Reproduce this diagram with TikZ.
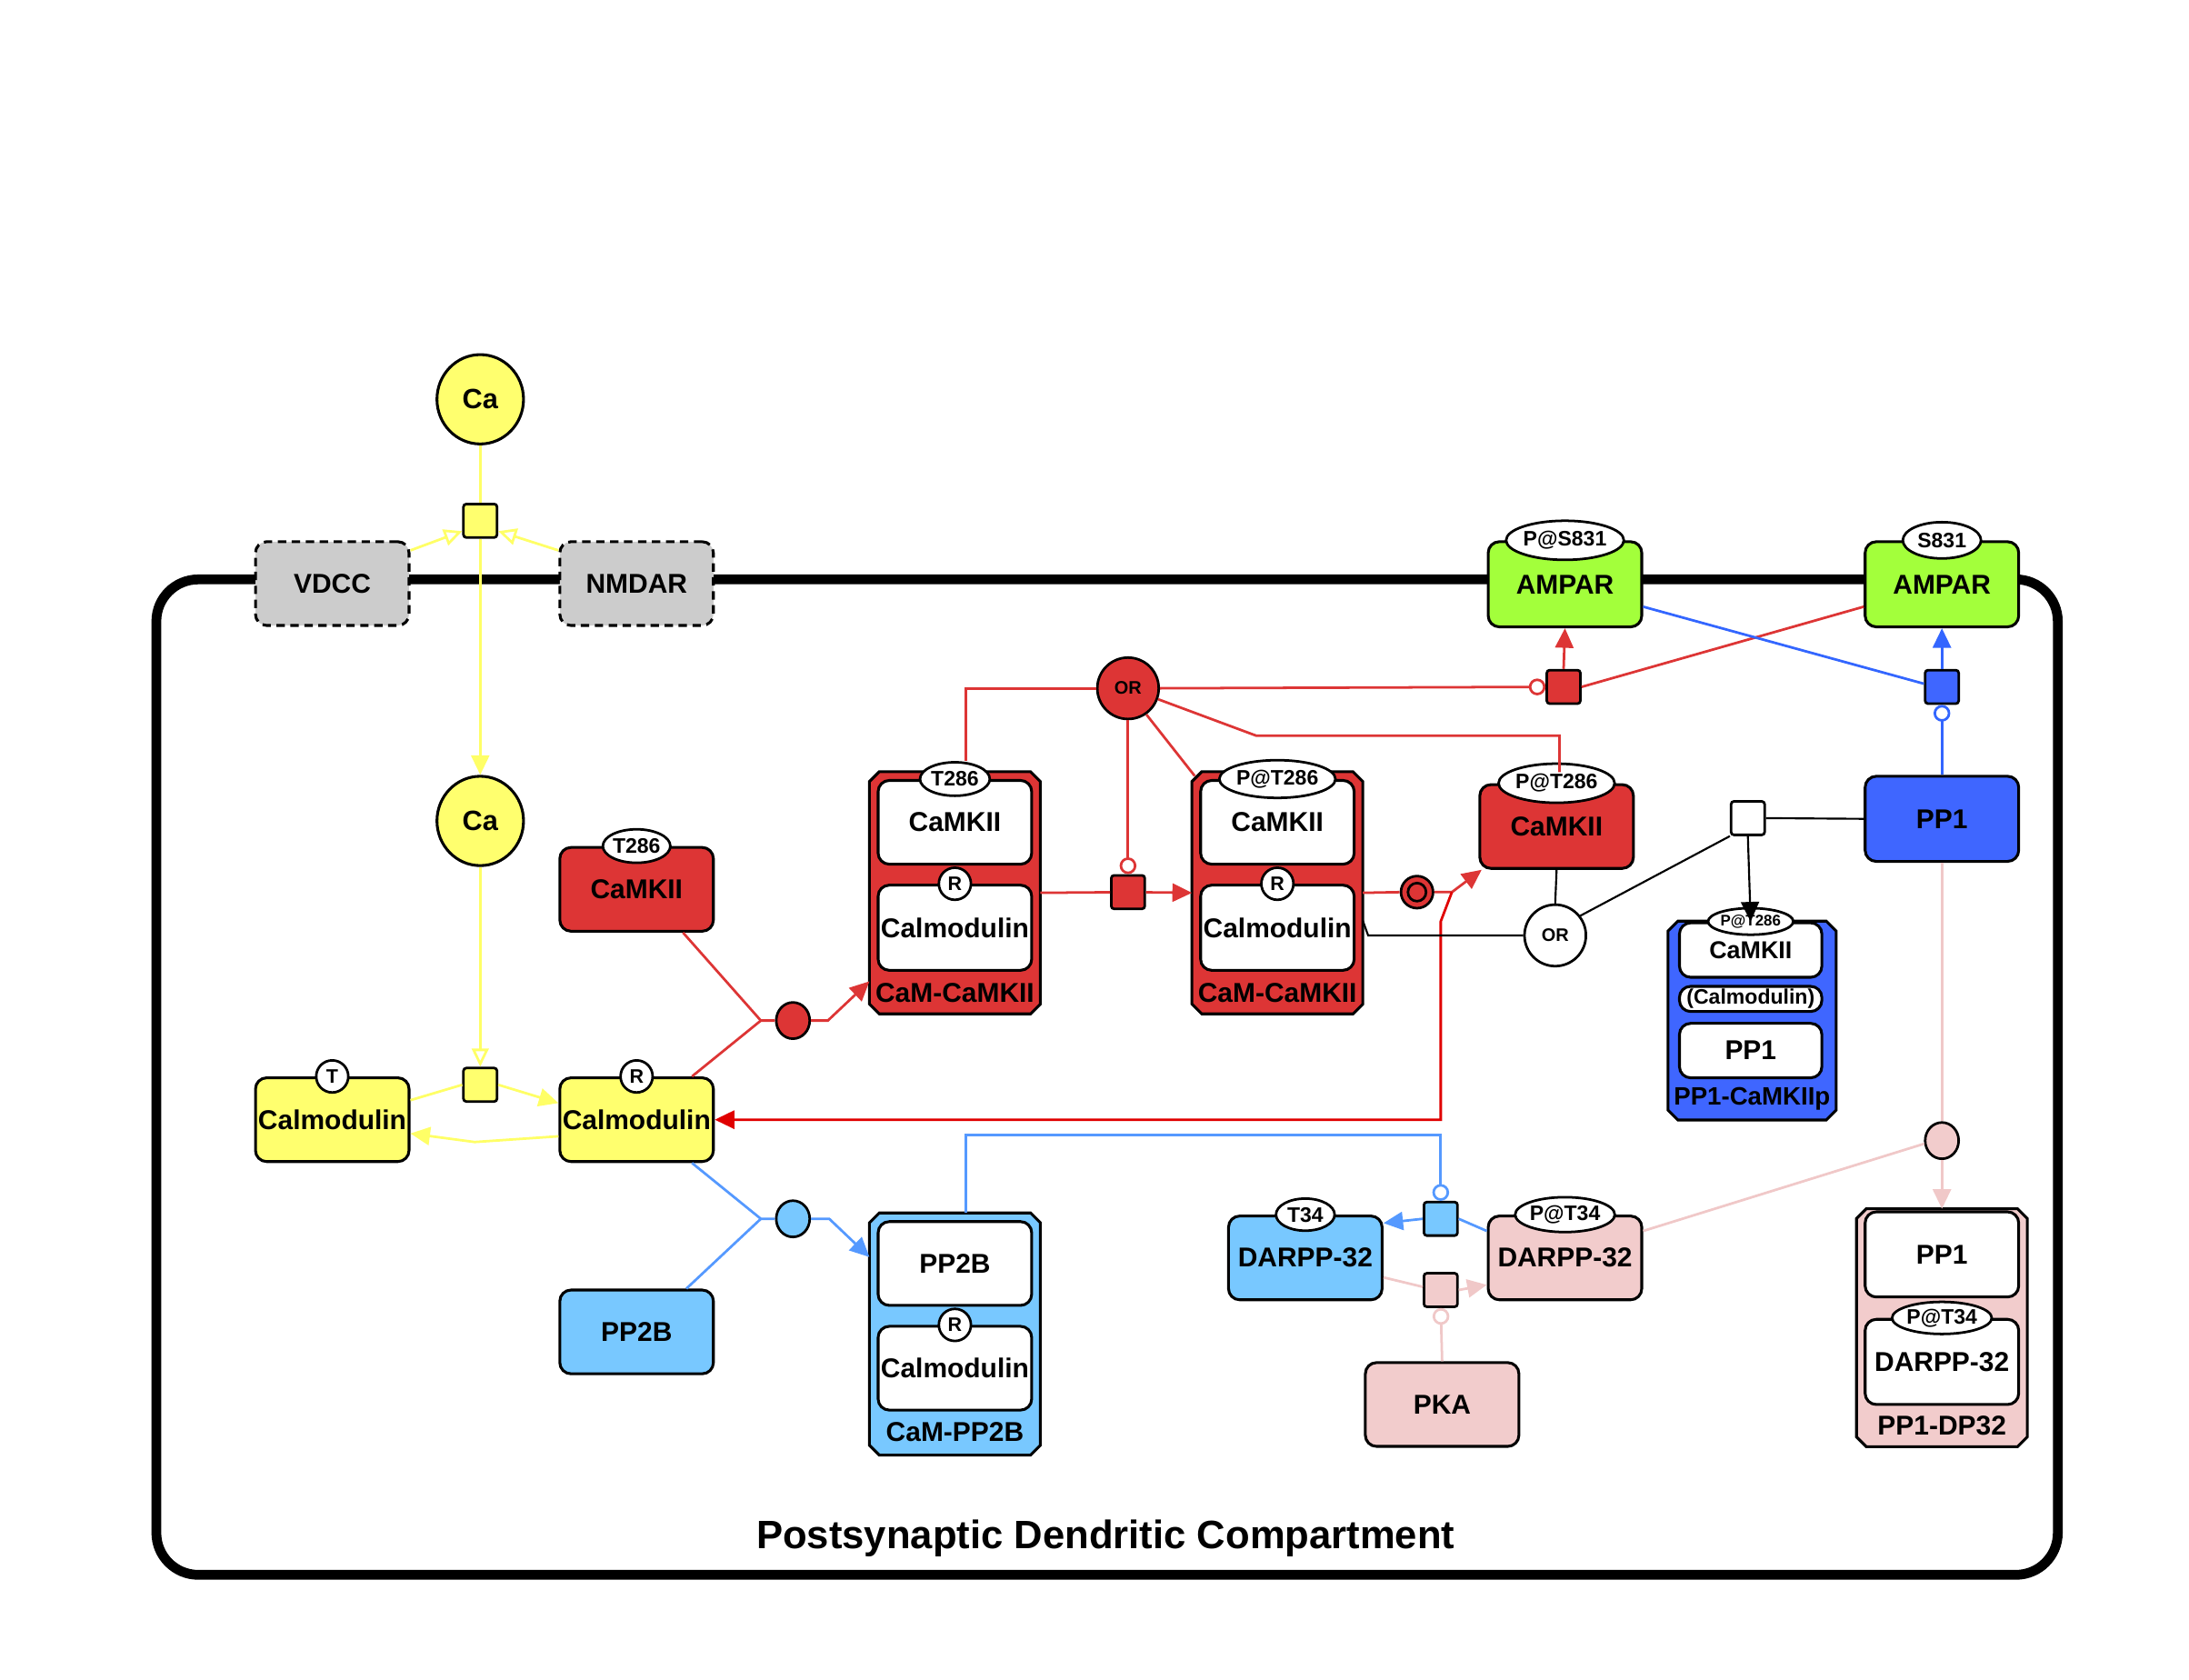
\documentclass[tikz,border=0pt]{standalone}
\usepackage{fontspec}
\setmainfont{Liberation Sans}
\usetikzlibrary{arrows.meta,shapes.geometric,calc}
\definecolor{cyel}{HTML}{FFFF6E}
\definecolor{cgray}{HTML}{CCCCCC}
\definecolor{cred}{HTML}{DD3535}
\definecolor{cgreen}{HTML}{A3FF3B}
\definecolor{cblue}{HTML}{3F66FF}
\definecolor{clblue}{HTML}{78C8FF}
\definecolor{cpink}{HTML}{F2CCCC}
\definecolor{lyel}{HTML}{FFFF66}
\definecolor{lred}{HTML}{DD3535}
\definecolor{lbred}{HTML}{E00000}
\definecolor{lblue}{HTML}{5599FF}
\definecolor{lpblue}{HTML}{3366FF}
\definecolor{lpink}{HTML}{F0C8C8}
\newcommand\chamfbox[2]{%
  \draw[line width=2pt, fill=#2]
    ($(#1.north west)+(7,0)$) -- ($(#1.north east)+(-7,0)$) -- ($(#1.north east)+(0,7)$)
    -- ($(#1.south east)+(0,-7)$) -- ($(#1.south east)+(-7,0)$) -- ($(#1.south west)+(7,0)$)
    -- ($(#1.south west)+(0,-7)$) -- ($(#1.north west)+(0,7)$) -- cycle;}
\begin{document}
\begin{tikzpicture}[x=1pt,y=-1pt,
  base/.style={font=\bfseries\fontsize{19.5}{22}\selectfont, text=black},
  mac/.style={base, draw, line width=2pt, rounded corners=8pt, minimum width=110pt, minimum height=60pt, inner sep=0pt},
  inbox/.style={mac, fill=white},
  cpx/.style={base, rectangle, minimum width=122pt, minimum height=173pt, inner sep=0pt},
  uoi/.style={draw, fill=white, ellipse, line width=1.8pt, inner sep=0pt, font=\bfseries\fontsize{15}{16}\selectfont},
  rc/.style={draw, fill=white, circle, line width=1.8pt, minimum size=23pt, inner sep=0pt, font=\bfseries\fontsize{14}{15}\selectfont},
  pq/.style={draw, line width=1.8pt, rounded corners=2pt, minimum size=24pt, inner sep=0pt},
  assoc/.style={draw, ellipse, line width=1.8pt, minimum width=24pt, minimum height=26pt, inner sep=0pt},
  ornode/.style={draw, ellipse, line width=1.8pt, minimum width=44pt, minimum height=44pt, inner sep=0pt, font=\bfseries\fontsize{13}{14}\selectfont},
  ion/.style={draw, ellipse, fill=cyel, line width=2pt, minimum width=62pt, minimum height=64pt, inner sep=0pt, font=\bfseries\fontsize{20}{22}\selectfont},
  cn/.style={line width=1.8pt},
  fa/.style={-{Triangle[length=14pt,width=13pt]}},
  oa/.style={-{Triangle[open,length=13pt,width=12pt,fill=white]}},
  cat/.style={-{Circle[open,length=12pt,width=12pt,fill=white]}}
]
\useasboundingbox (0,0) rectangle (1568,1202.7);

% compartment
\node[draw, line width=7pt, rounded corners=30pt, minimum width=1362pt, minimum height=713pt, inner sep=0pt] (comp) at (793,771.5) {};
\node[font=\bfseries\fontsize{28.4}{30}\selectfont] (title) at (792,1102) {Postsynaptic Dendritic Compartment};

% yellow part
\node[ion] (ca1) at (344,286) {Ca};
\node[pq, fill=cyel] (p1) at (344,373) {};
\node[mac, fill=cgray, dash pattern=on 6pt off 4pt] (vdcc) at (238,418) {VDCC};
\node[mac, fill=cgray, dash pattern=on 6pt off 4pt] (nmdar) at (456,418) {NMDAR};
\node[ion] (ca2) at (344,588) {Ca};
\node[pq, fill=cyel] (p2) at (344,777) {};
\node[mac, fill=cyel] (calT) at (238,802) {Calmodulin};
\node[rc] (calTu) at (calT.north) {T};
\node[mac, fill=cyel] (calR) at (456,802) {Calmodulin};
\node[rc] (calRu) at (calR.north) {R};

% free CaMKII
\node[mac, fill=cred] (camk) at (456,637) {CaMKII};
\node[uoi, minimum width=48pt, minimum height=24pt] (camku) at (camk.north) {T286};

% complex 1
\node[cpx] (cx1) at (684,639.5) {};
\chamfbox{cx1}{cred}
\node[inbox] (cx1a) at (684,589) {CaMKII};
\node[uoi, minimum width=50pt, minimum height=24pt] (cx1au) at (cx1a.north) {T286};
\node[inbox, minimum height=61pt] (cx1b) at (684,664.5) {Calmodulin};
\node[rc] (cx1bu) at (cx1b.north) {R};
\node[base] (cx1l) at (684,711) {CaM-CaMKII};

% complex 2
\node[cpx] (cx2) at (915,639.5) {};
\chamfbox{cx2}{cred}
\node[inbox] (cx2a) at (915,589) {CaMKII};
\node[uoi, minimum width=66pt, minimum height=27pt] (cx2au) at (cx2a.north) {P@T286};
\node[inbox, minimum height=61pt] (cx2b) at (915,664.5) {Calmodulin};
\node[rc] (cx2bu) at (cx2b.north) {R};
\node[base] (cx2l) at (915,711) {CaM-CaMKII};

% phosphorylated CaMKII
\node[mac, fill=cred] (cx3) at (1115,592) {CaMKII};
\node[uoi, minimum width=68pt, minimum height=28pt] (cx3u) at (cx3.north) {P@T286};

% AMPARs
\node[mac, fill=cgreen, minimum height=61pt] (ampP) at (1121,418.5) {AMPAR};
\node[uoi, minimum width=82pt, minimum height=28pt] (ampPu) at (ampP.north) {P@S831};
\node[mac, fill=cgreen, minimum height=61pt] (ampS) at (1391,418.5) {AMPAR};
\node[uoi, minimum width=56pt, minimum height=26pt] (ampSu) at (ampS.north) {S831};

% PP1
\node[mac, fill=cblue, minimum height=61pt] (pp1) at (1391,586.5) {PP1};

% PP1-CaMKIIp complex
\node[cpx, minimum width=120pt, minimum height=142pt] (cx5) at (1255,731) {};
\chamfbox{cx5}{cblue}
\node[inbox, minimum width=102pt, minimum height=39pt, font=\bfseries\fontsize{17.5}{19}\selectfont] (cx5a) at (1254,680.5) {CaMKII};
\node[uoi, minimum width=60pt, minimum height=19pt, font=\bfseries\fontsize{11}{12}\selectfont] (cx5au) at (cx5a.north) {P@T286};
\node[inbox, minimum width=102pt, minimum height=18pt, font=\bfseries\fontsize{15}{16}\selectfont] (cx5b) at (1254,715.5) {(Calmodulin)};
\node[inbox, minimum width=102pt, minimum height=39pt] (cx5c) at (1254,752.5) {PP1};
\node[base, font=\bfseries\fontsize{18}{19}\selectfont] (cx5l) at (1255,787) {PP1-CaMKIIp};

% PP2B
\node[mac, fill=clblue] (pp2b) at (456,954) {PP2B};
\node[cpx] (cx4) at (684,955.5) {};
\chamfbox{cx4}{clblue}
\node[inbox] (cx4a) at (684,905) {PP2B};
\node[inbox] (cx4b) at (684,980) {Calmodulin};
\node[rc] (cx4bu) at (cx4b.north) {R};
\node[base] (cx4l) at (684,1026) {CaM-PP2B};

% DARPP-32
\node[mac, fill=clblue] (dblue) at (935,901) {DARPP-32};
\node[uoi, minimum width=42pt, minimum height=23pt] (dblueu) at (dblue.north) {T34};
\node[mac, fill=cpink] (dpink) at (1121,901) {DARPP-32};
\node[uoi, minimum width=58pt, minimum height=25pt] (dpinku) at (dpink.north) {P@T34};
\node[mac, fill=cpink] (pka) at (1033,1006) {PKA};

% PP1-DP32 complex
\node[cpx, minimum height=170pt] (cx6) at (1391,951) {};
\chamfbox{cx6}{cpink}
\node[inbox, minimum height=61pt] (cx6a) at (1391,898.5) {PP1};
\node[inbox, minimum height=61pt] (cx6b) at (1391,975.5) {DARPP-32};
\node[uoi, minimum width=58pt, minimum height=23pt] (cx6bu) at (cx6b.north) {P@T34};
\node[base] (cx6l) at (1391,1021) {PP1-DP32};

% process / logic nodes
\node[pq, fill=cred] (pr1) at (808,639) {};
\node[pq, fill=cred] (pr2) at (1120,492) {};
\node[pq, fill=cblue] (pb1) at (1391,492) {};
\node[pq, fill=white] (pw) at (1252,586) {};
\node[pq, fill=clblue] (pbl) at (1032,873) {};
\node[pq, fill=cpink] (ppk) at (1032,924) {};
\node[assoc, fill=cred] (a1) at (568,731) {};
\node[assoc, fill=clblue] (a2) at (568,873) {};
\node[assoc, fill=cpink] (a3) at (1391,817) {};
\node[draw, circle, fill=cred, line width=1.8pt, minimum size=23pt, inner sep=0pt] (d1) at (1015,639) {};
\node[draw, circle, line width=1.8pt, minimum size=13pt, inner sep=0pt] (d1in) at (d1.center) {};
\node[ornode, fill=cred] (or1) at (808,493) {OR};
\node[ornode, fill=white] (or2) at (1114,670) {OR};

% helper coordinates
\coordinate (ym) at (340,818);
\coordinate (j1) at (545,731);
\coordinate (k1) at (593,731);
\coordinate (k2) at (900,527);
\coordinate (j2) at (1040,639);
\coordinate (j3) at (1032,660);
\coordinate (j4) at (1032,802);
\coordinate (k5) at (980,670);
\coordinate (j5) at (545,873);
\coordinate (k6) at (594,873);
\coordinate (k7) at (692,813);

% ---- yellow connectors
\begin{scope}[cn, draw=lyel, color=lyel]
\draw (ca1) -- (p1);
\draw[oa] (vdcc.23) -- (p1.210);
\draw[oa] (nmdar.157) -- (p1.-30);
\draw[fa] (p1) -- (ca2);
\draw[oa] (ca2) -- (p2);
\draw (calT.14) -- (p2.west);
\draw[fa] (p2.east) -- (calR.168);
\draw[fa] (calR.192) -- (ym) -- (calT.-10);
\end{scope}

% ---- red connectors
\begin{scope}[cn, color=lred]
\draw (camk.-43) -- (j1) -- (a1);
\draw (calR.38) -- (j1);
\draw[fa] (a1) -- (k1) -- (cx1.226);
\draw (cx1.east) -- (pr1);
\draw[fa] (pr1) -- (cx2.west);
\draw[cat] (or1) -- (pr1);
\draw (or1.west) -| ($(cx1au.north)+(8,0)$);
\draw (or1.-55) -- ($(cx2.north west)+(2,3)$);
\draw[cat] (or1.east) -- (pr2.west);
\draw (or1.-20) -- (k2) -| ($(cx3u.north)+(2,7)$);
\draw (pr2.east) -- (ampS.196);
\draw[fa] (pr2.north) -- (ampP.south);
\draw (cx2.east) -- (d1.west);
\draw[fa] (d1.east) -- (j2) -- (cx3.210);
\end{scope}
\draw[cn, color=lbred, fa] (j2) -- (j3) -- (j4) -- (calR.east);

% ---- dark blue connectors
\begin{scope}[cn, color=lpblue]
\draw (ampP.-16) -- (pb1.170);
\draw[fa] (pb1.north) -- (ampS.south);
\draw[cat] (pp1.north) -- (pb1.south);
\end{scope}

% ---- black connectors
\begin{scope}[line width=1.4pt, color=black]
\draw (cx3.south) -- (or2.north);
\draw ($(cx2.east)+(0,20)$) -- (k5) -- (or2.west);
\draw (or2.38) -- (pw.225);
\draw (pw.east) -- (pp1.west);
\draw[fa] (pw.south) -- (cx5au.center);
\end{scope}

% ---- light blue connectors
\begin{scope}[cn, color=lblue]
\draw (calR.-38) -- (j5) -- (a2);
\draw (pp2b.41) -- (j5);
\draw[fa] (a2) -- (k6) -- (cx4.138);
\draw[cat] ($(cx4.north)+(8,0)$) -- (k7) -| (pbl.north);
\draw (dpink.161) -- (pbl.east);
\draw[fa] (pbl.west) -- (dblue.24);
\end{scope}

% ---- pink connectors
\begin{scope}[cn, color=lpink]
\draw (pp1.south) -- (a3);
\draw[fa] (a3.south) -- (cx6.north);
\draw (a3.190) -- (dpink.19);
\draw (dblue.-14) -- (ppk.170);
\draw[fa] (ppk.east) -- (dpink.199);
\draw[cat] (pka.north) -- (ppk.south);
\end{scope}
\end{tikzpicture}
\end{document}
